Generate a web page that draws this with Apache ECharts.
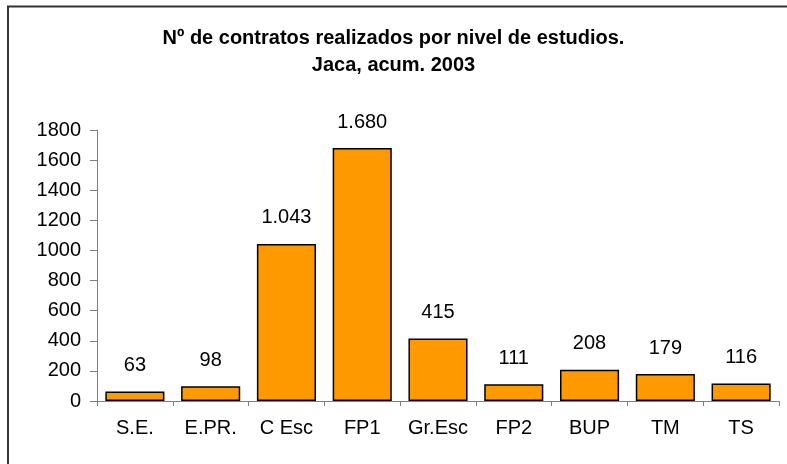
<!DOCTYPE html>
<html>
<head>
<meta charset="utf-8">
<script src="https://cdn.jsdelivr.net/npm/echarts@6/dist/echarts.min.js"></script>
<style>
  html, body { margin: 0; padding: 0; background: #fff; }
  #chart { width: 787px; height: 464px; }
</style>
</head>
<body>
<div id="chart"></div>
<script>
  const categories = ["S.E.", "E.PR.", "C Esc", "FP1", "Gr.Esc", "FP2", "BUP", "TM", "TS"];
  const contratos = [63, 98, 1043, 1680, 415, 111, 208, 179, 116];
  const titleLines = ["Nº de contratos realizados por nivel de estudios.", "Jaca, acum. 2003"];

  const FONT = '"Liberation Sans", Arial, sans-serif';
  // spanish thousands separator
  const fmt = (v) => String(v).replace(/\B(?=(\d{3})+(?!\d))/g, ".");

  const chart = echarts.init(document.getElementById("chart"));
  chart.setOption({
    animation: false,
    backgroundColor: "#fff",
    title: {
      text: titleLines.join("\n"),
      left: "center",
      top: 21,
      padding: [4, 5, 5, 25],
      textStyle: {
        fontFamily: FONT,
        fontSize: 20,
        fontWeight: "bold",
        color: "#000",
        lineHeight: 27,
      },
    },
    graphic: [
      {
        type: "rect",
        shape: { x: 8, y: 6.5, width: 820, height: 500 },
        style: { fill: "none", stroke: "#333", lineWidth: 2 },
        silent: true,
      },
    ],
    grid: { left: 97, right: 8, top: 130, bottom: 63 },
    xAxis: {
      type: "category",
      data: categories,
      axisLine: { lineStyle: { color: "#808080", width: 1 } },
      axisTick: { show: true, length: 5, lineStyle: { color: "#808080" } },
      axisLabel: { color: "#000", fontFamily: FONT, fontSize: 20, margin: 17, interval: 0 },
    },
    yAxis: {
      type: "value",
      min: 0,
      max: 1800,
      interval: 200,
      axisLine: { show: true, lineStyle: { color: "#808080", width: 1 } },
      axisTick: { show: true, inside: false, length: 7, lineStyle: { color: "#808080" } },
      axisLabel: {
        color: "#000",
        fontFamily: FONT,
        fontSize: 20,
        margin: 16,
        formatter: (v) => String(v),
      },
      splitLine: { show: false },
    },
    series: [
      {
        type: "bar",
        data: contratos,
        barCategoryGap: "22%",
        itemStyle: { color: "#FF9900", borderColor: "#000", borderWidth: 1.5 },
        label: {
          show: true,
          position: "top",
          distance: 16,
          color: "#000",
          fontFamily: FONT,
          fontSize: 20,
          formatter: (p) => fmt(p.value),
        },
      },
    ],
  });
</script>
</body>
</html>
